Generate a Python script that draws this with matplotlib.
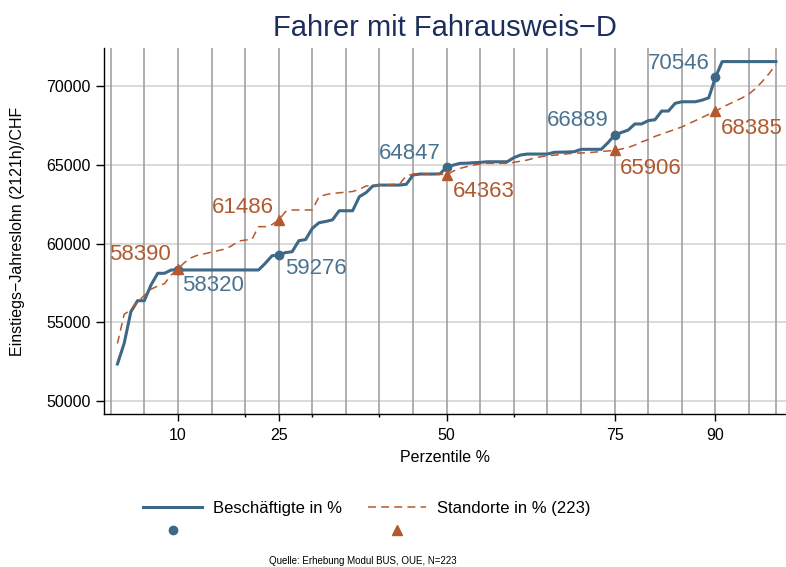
import matplotlib
matplotlib.use("Agg")
import matplotlib.pyplot as plt
from matplotlib.lines import Line2D

plt.rcParams['font.family'] = ['Liberation Sans', 'DejaVu Sans']

# Perzentile 1..99
perzentile = list(range(1, 100))

beschaeftigte = [
    52350, 53660, 55670, 56370, 56370, 57370, 58110, 58110, 58320, 58320,
    58320, 58320, 58320, 58320, 58320, 58320, 58320, 58320, 58320, 58320,
    58320, 58320, 58740, 59220, 59276, 59420, 59480, 60180, 60250, 60960,
    61320, 61400, 61500, 62080, 62080, 62080, 62970, 63230, 63650, 63710,
    63710, 63710, 63710, 63760, 64350, 64410, 64410, 64410, 64420, 64847,
    64980, 65090, 65100, 65130, 65150, 65190, 65190, 65190, 65190, 65450,
    65620, 65680, 65680, 65680, 65680, 65790, 65800, 65810, 65830, 65980,
    65980, 65980, 65980, 66400, 66889, 67050, 67200, 67590, 67590, 67800,
    67860, 68410, 68410, 68900, 69000, 69000, 69000, 69100, 69250, 70546,
    71550, 71550, 71550, 71550, 71550, 71550, 71550, 71550, 71550,
]

standorte = [
    53650, 55500, 55800, 56300, 56700, 57100, 57300, 57450, 58000, 58390,
    58800, 59100, 59270, 59350, 59450, 59550, 59650, 59850, 60150, 60220,
    60250, 61070, 61070, 61200, 61486, 62020, 62130, 62130, 62130, 62130,
    62970, 63100, 63180, 63220, 63260, 63300, 63440, 63650, 63680, 63700,
    63720, 63750, 63780, 64300, 64400, 64410, 64410, 64410, 64400, 64363,
    64600, 64770, 64880, 64980, 65050, 65090, 65090, 65090, 65090, 65150,
    65230, 65300, 65420, 65510, 65560, 65610, 65650, 65700, 65730, 65750,
    65770, 65800, 65840, 65880, 65906, 66000, 66100, 66250, 66450, 66600,
    66800, 66950, 67100, 67250, 67400, 67600, 67800, 68000, 68200, 68385,
    68650, 68850, 69050, 69250, 69500, 69850, 70300, 70800, 71350,
]

# markierte Perzentile
marker_p = [10, 25, 50, 75, 90]
beschaeftigte_mark = [58320, 59276, 64847, 66889, 70546]
standorte_mark = [58390, 61486, 64363, 65906, 68385]

xticks_major = [10, 25, 50, 75, 90]
xticks_minor = [20, 30, 40, 60]
vlines = list(range(0, 100, 5)) + [99]
yticks = [50000, 55000, 60000, 65000, 70000]

blau = '#3d6886'
blau_txt = '#4a7391'
orange = '#b4582f'
orange_txt = '#b05a30'
strich = (0, (5.2, 3.4))

fig = plt.figure(figsize=(7.86, 5.67), dpi=100)
ax = fig.add_axes([104 / 786, 1 - 414 / 567, 682 / 786, 366 / 567])

for v in vlines:
    ax.axvline(v, color='#9a9a9a', lw=1.1, zorder=1)
ax.set_yticks(yticks)
ax.grid(axis='y', color='#d4d4d4', lw=1.2, zorder=0)
ax.set_axisbelow(True)

ax.plot(perzentile, beschaeftigte, color=blau, lw=2.2, zorder=3,
        solid_joinstyle='round')
ax.plot(perzentile, standorte, color=orange, lw=1.1, ls=strich, zorder=3)
ax.plot(marker_p, beschaeftigte_mark, 'o', color=blau, ms=6, zorder=4)
ax.plot(marker_p, standorte_mark, '^', color=orange, ms=6.5, zorder=4)

# Beschriftungen (Offsets in Pixel)
off_b = [(4, -16, 'left'), (6, -14, 'left'), (-6, 13.5, 'right'),
         (-6, 14.5, 'right'), (-6, 14, 'right')]
off_s = [(-7, 14.5, 'right'), (-5, 13, 'right'), (6, -17, 'left'),
         (5, -18, 'left'), (5, -17.5, 'left')]
for p, v, (dx, dy, ha) in zip(marker_p, beschaeftigte_mark, off_b):
    ax.annotate(str(v), (p, v), xytext=(dx, dy), textcoords='offset pixels',
                ha=ha, va='center', fontsize=16, color=blau_txt, zorder=5)
for p, v, (dx, dy, ha) in zip(marker_p, standorte_mark, off_s):
    ax.annotate(str(v), (p, v), xytext=(dx, dy), textcoords='offset pixels',
                ha=ha, va='center', fontsize=16, color=orange_txt, zorder=5)

ax.set_xlim(-1, 100.5)
ax.set_ylim(49175, 72413)
ax.set_xticks(xticks_major)
ax.set_xticks(xticks_minor, minor=True)
ax.tick_params(axis='x', which='major', length=5, width=1, pad=5, labelsize=11.5)
ax.tick_params(axis='x', which='minor', length=2.5, width=1)
ax.tick_params(axis='y', length=5.5, width=1, pad=4, labelsize=11.5)
for s in ['top', 'right']:
    ax.spines[s].set_visible(False)
for s in ['left', 'bottom']:
    ax.spines[s].set_linewidth(1)

ax.set_xlabel('Perzentile %', fontsize=11.5)
ax.xaxis.set_label_coords(0.5, -(450 - 414) / 366)
ax.set_ylabel('Einstiegs\u2212Jahreslohn (2121h)/CHF', fontsize=11.5)
ax.yaxis.set_label_coords(-(104 - 25) / 682, 0.5)

fig.text(445 / 786, 1 - 36 / 567, 'Fahrer mit Fahrausweis\u2212D', ha='center',
         va='baseline', fontsize=21, color='#1c2f5c')

handles = [Line2D([], [], color=blau, lw=2.2),
           Line2D([], [], ls='none', marker='o', color=blau, ms=6),
           Line2D([], [], color=orange, lw=1.1, ls=strich),
           Line2D([], [], ls='none', marker='^', color=orange, ms=6.5)]
labels = ['Besch\u00e4ftigte in %', '', 'Standorte in % (223)', '']
fig.legend(handles, labels, ncol=2, loc='center',
           bbox_to_anchor=(367 / 786, 1 - 520 / 567), frameon=False,
           fontsize=12, handlelength=3.5, handletextpad=0.66,
           columnspacing=1.56, labelspacing=0.45)

fig.text(363 / 786, 1 - 561 / 567, 'Quelle: Erhebung Modul BUS, OUE, N=223',
         ha='center', va='center', fontsize=7)

fig.savefig('out.png', dpi=100)
